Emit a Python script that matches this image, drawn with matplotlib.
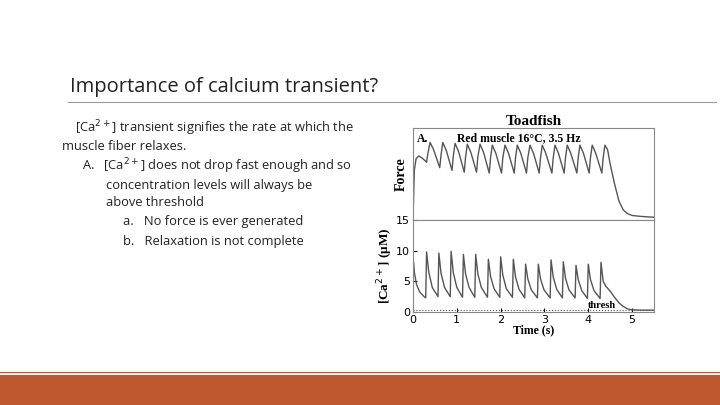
import matplotlib
matplotlib.use("Agg")
import matplotlib.pyplot as plt

# Calcium transient [Ca2+] (uM)
ca_t = [0.0, 0.01, 0.03, 0.08, 0.15, 0.24, 0.29,
        0.31, 0.36, 0.44, 0.57, 0.59, 0.64, 0.72, 0.85, 0.87, 0.92, 1.0, 1.13,
        1.15, 1.2, 1.28, 1.41, 1.43, 1.48, 1.56, 1.70, 1.72, 1.77, 1.85, 1.98,
        2.0, 2.05, 2.13, 2.27, 2.29, 2.34, 2.42, 2.55, 2.57, 2.62, 2.7, 2.84,
        2.86, 2.91, 2.99, 3.13, 3.15, 3.2, 3.28, 3.41, 3.43, 3.48, 3.56, 3.70,
        3.72, 3.77, 3.85, 3.98, 4.0, 4.05, 4.13, 4.27, 4.29, 4.34, 4.4, 4.5,
        4.6, 4.7, 4.8, 4.9, 5.0, 5.2, 5.5]
ca_v = [0.0, 8.2, 6.5, 4.5, 3.3, 2.6, 2.3,
        9.8, 6.5, 4.0, 2.5, 9.6, 6.3, 4.0, 2.5, 9.9, 6.4, 4.0, 2.4,
        9.4, 6.2, 4.0, 2.4, 9.4, 6.2, 4.0, 2.4, 8.6, 5.8, 3.8, 2.4,
        9.0, 6.0, 3.8, 2.4, 8.6, 5.7, 3.7, 2.3, 7.8, 5.4, 3.6, 2.3,
        7.8, 5.4, 3.6, 2.3, 8.5, 5.7, 3.7, 2.3, 8.2, 5.5, 3.6, 2.3,
        7.6, 5.3, 3.5, 2.2, 7.8, 5.3, 3.5, 2.2, 8.1, 5.0, 4.2, 3.4,
        2.4, 1.5, 0.9, 0.5, 0.35, 0.3, 0.3]

# Force (normalised): trough, early rise, peak, early decline per cycle
f_t = [0.0, 0.03, 0.07, 0.13, 0.2, 0.27,
       0.31, 0.34, 0.39, 0.47, 0.61, 0.64, 0.68, 0.76, 0.89, 0.92, 0.96, 1.04,
       1.17, 1.2, 1.24, 1.32, 1.45, 1.48, 1.53, 1.61, 1.74, 1.77, 1.81, 1.89,
       2.02, 2.05, 2.10, 2.18, 2.31, 2.34, 2.38, 2.46, 2.59, 2.62, 2.67, 2.75,
       2.88, 2.91, 2.95, 3.03, 3.17, 3.20, 3.24, 3.32, 3.45, 3.48, 3.52, 3.60,
       3.74, 3.77, 3.81, 3.89, 4.02, 4.05, 4.09, 4.17, 4.31, 4.34, 4.38, 4.44,
       4.5, 4.6, 4.7, 4.8, 4.9, 5.0, 5.2, 5.5]
f_v = [0.0, 0.55, 0.68, 0.71, 0.69, 0.66,
       0.64, 0.74, 0.86, 0.78, 0.58, 0.72, 0.86, 0.77, 0.55, 0.71, 0.85, 0.76,
       0.53, 0.70, 0.84, 0.75, 0.53, 0.70, 0.84, 0.75, 0.52, 0.69, 0.83, 0.74,
       0.52, 0.69, 0.83, 0.74, 0.52, 0.69, 0.83, 0.74, 0.52, 0.69, 0.83, 0.74,
       0.52, 0.69, 0.83, 0.74, 0.52, 0.69, 0.83, 0.74, 0.52, 0.69, 0.83, 0.74,
       0.52, 0.69, 0.83, 0.74, 0.52, 0.69, 0.83, 0.74, 0.52, 0.69, 0.83, 0.78,
       0.62, 0.40, 0.21, 0.11, 0.07, 0.05, 0.04, 0.03]

xticks = [0, 1, 2, 3, 4, 5]
ca_ticks = [0, 5, 10, 15]

fig = plt.figure(figsize=(7.2, 4.05), dpi=100)
W, H = 720, 405
def fx(x): return x / W
def fy(y): return 1 - y / H

fam = ["Open Sans", "DejaVu Sans"]
fig.text(fx(70), fy(87), "Importance of calcium transient?", fontsize=14.5,
         color="#222222", family=fam, va="center")
fig.add_artist(plt.Line2D([fx(68), fx(716)], [fy(102), fy(102)], color="#999999", lw=0.8))
fig.add_artist(plt.Rectangle((0, 0), 1, 30 / H, color="#C0582E", lw=0))
fig.add_artist(plt.Line2D([0, 1], [fy(372), fy(372)], color="#C0582E", lw=0.8))

lines = [
    (75, 128, "[Ca$^{2+}$] transient signifies the rate at which the"),
    (62, 147, "muscle fiber relaxes."),
    (82, 166, "A.   [Ca$^{2+}$] does not drop fast enough and so"),
    (106, 185, "concentration levels will always be"),
    (106, 203, "above threshold"),
    (123, 222, "a.   No force is ever generated"),
    (123, 241, "b.   Relaxation is not complete"),
]
for x, y, s in lines:
    fig.text(fx(x), fy(y), s, fontsize=9.3, family=fam, color="#222222", va="center")

serif = ["Liberation Serif", "DejaVu Serif"]
axf = fig.add_axes([fx(413), fy(220), fx(654) - fx(413), fy(128) - fy(220)])
axf.plot(f_t, f_v, color="#555555", lw=1.0)
axf.set_xlim(0, 5.5); axf.set_ylim(0, 1.02)
axf.set_xticks([]); axf.set_yticks([])
axf.set_ylabel("Force", fontsize=10, family=serif, fontweight="bold")
axf.text(0.1, 0.97, "A.", fontsize=8.5, family=serif, fontweight="bold", va="top")
axf.text(1.0, 0.97, "Red muscle 16°C, 3.5 Hz", fontsize=8.5,
         family=serif, fontweight="bold", va="top")
axf.set_title("Toadfish", fontsize=11, family=serif, fontweight="bold", pad=2)

axc = fig.add_axes([fx(413), fy(312), fx(654) - fx(413), fy(220) - fy(312)])
axc.plot(ca_t, ca_v, color="#555555", lw=1.0)
axc.axhline(0.3, color="#555555", lw=0.8, ls=":")
axc.text(4.0, 0.6, "thresh", fontsize=7.5, family=serif, fontweight="bold")
axc.set_xlim(0, 5.5); axc.set_ylim(0, 15)
axc.set_xticks(xticks); axc.set_yticks(ca_ticks)
axc.tick_params(labelsize=8, direction="in", length=3, pad=2)
axc.set_xlabel("Time (s)", fontsize=8.5, family=serif, fontweight="bold", labelpad=0)
axc.set_ylabel("[Ca$^{2+}$] (μM)", fontsize=9.5, family=serif, fontweight="bold", labelpad=1)
for ax in (axf, axc):
    for s in ax.spines.values():
        s.set_color("#888888"); s.set_linewidth(0.8)

fig.savefig("out.png", dpi=100)
